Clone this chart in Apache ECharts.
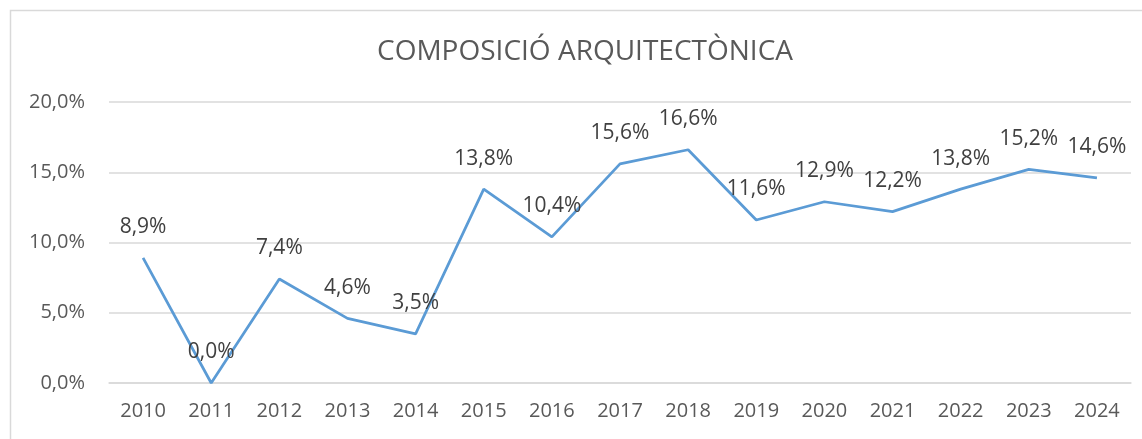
<!DOCTYPE html>
<html><head><meta charset="utf-8">
<script src="https://cdn.jsdelivr.net/npm/echarts@6/dist/echarts.min.js"></script>
<style>html,body{margin:0;padding:0;background:#fff}#c{width:1142px;height:439px}</style>
</head><body><div id="c"></div>
<script>
const titleText = "COMPOSICIÓ ARQUITECTÒNICA";
const years = ["2010","2011","2012","2013","2014","2015","2016","2017","2018","2019","2020","2021","2022","2023","2024"];
const values = [8.9, 0.0, 7.4, 4.6, 3.5, 13.8, 10.4, 15.6, 16.6, 11.6, 12.9, 12.2, 13.8, 15.2, 14.6];
const yMin = 0, yMax = 20, yStep = 5;
const fmt = v => v.toFixed(1).replace('.', ',') + '%';
const FONT = '"Open Sans", sans-serif';
const chart = echarts.init(document.getElementById('c'), null, {renderer:'canvas'});
chart.setOption({
  animation: false,
  backgroundColor: '#fff',
  title: {text: titleText, left: 580, top: 33, textAlign: 'center',
    textStyle: {fontFamily: FONT, fontSize: 28, fontWeight: 'normal', color: '#595959'}},
  grid: {left: 109, right: 11, top: 102, bottom: 56, containLabel: false},
  xAxis: {type: 'category', data: years, boundaryGap: true,
    axisLine: {show: true, lineStyle: {color: '#d9d9d9', width: 1.5}},
    axisTick: {show: false},
    axisLabel: {fontFamily: FONT, fontSize: 20, color: '#595959', margin: 18}},
  yAxis: {type: 'value', min: yMin, max: yMax, interval: yStep,
    axisLine: {show: false}, axisTick: {show: false},
    splitLine: {lineStyle: {color: '#d9d9d9', width: 1.5}},
    axisLabel: {fontFamily: FONT, fontSize: 20, color: '#595959', margin: 24, formatter: v => fmt(v)}},
  series: [{type: 'line', data: values, symbol: 'circle', symbolSize: 0.1, showSymbol: true,
    lineStyle: {color: '#5b9bd5', width: 2.75}, itemStyle: {color: '#5b9bd5'},
    label: {show: true, position: 'top', distance: 20, fontFamily: FONT, fontSize: 21, color: '#404040',
      formatter: p => fmt(p.value)}}],
  graphic: [{type: 'rect', silent: true, z: -1,
    shape: {x: 10.5, y: 10.5, width: 1200, height: 500},
    style: {fill: 'none', stroke: '#d9d9d9', lineWidth: 1.5}}]
});
</script></body></html>
